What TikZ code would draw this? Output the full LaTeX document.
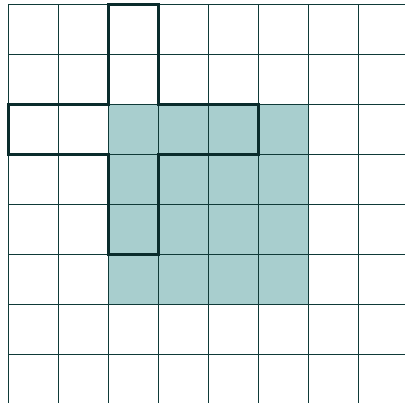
\documentclass[tikz,border=0pt]{standalone}
\begin{document}
\begin{tikzpicture}[x=1pt,y=-1pt,
  gridline/.style={draw=gridcol,line width=1.2pt},
  shade/.style={fill=fillcol},
  outline/.style={draw=outcol,line width=3.6pt,line join=miter,line cap=rect}]
\definecolor{gridcol}{HTML}{0F3A38}
\definecolor{fillcol}{HTML}{A8CECE}
\definecolor{outcol}{HTML}{0A2C2C}
\useasboundingbox (0,0) rectangle (405,403);
\fill[white] (0,0) rectangle (405,403);
\path[shade] (108.5,104.5) rectangle (308.5,304.5);
\foreach \k in {0,...,7}{
  \draw[gridline] (8.5,{4.5+50*\k}) -- (405,{4.5+50*\k});
  \draw[gridline] ({8.5+50*\k},4.5) -- ({8.5+50*\k},403);
}
\draw[outline] (108.5,4.5) -- (158.5,4.5) -- (158.5,104.5) -- (258.5,104.5) -- (258.5,154.5) -- (158.5,154.5) -- (158.5,254.5) -- (108.5,254.5) -- (108.5,154.5) -- (8.5,154.5) -- (8.5,104.5) -- (108.5,104.5) -- cycle;
\end{tikzpicture}
\end{document}
